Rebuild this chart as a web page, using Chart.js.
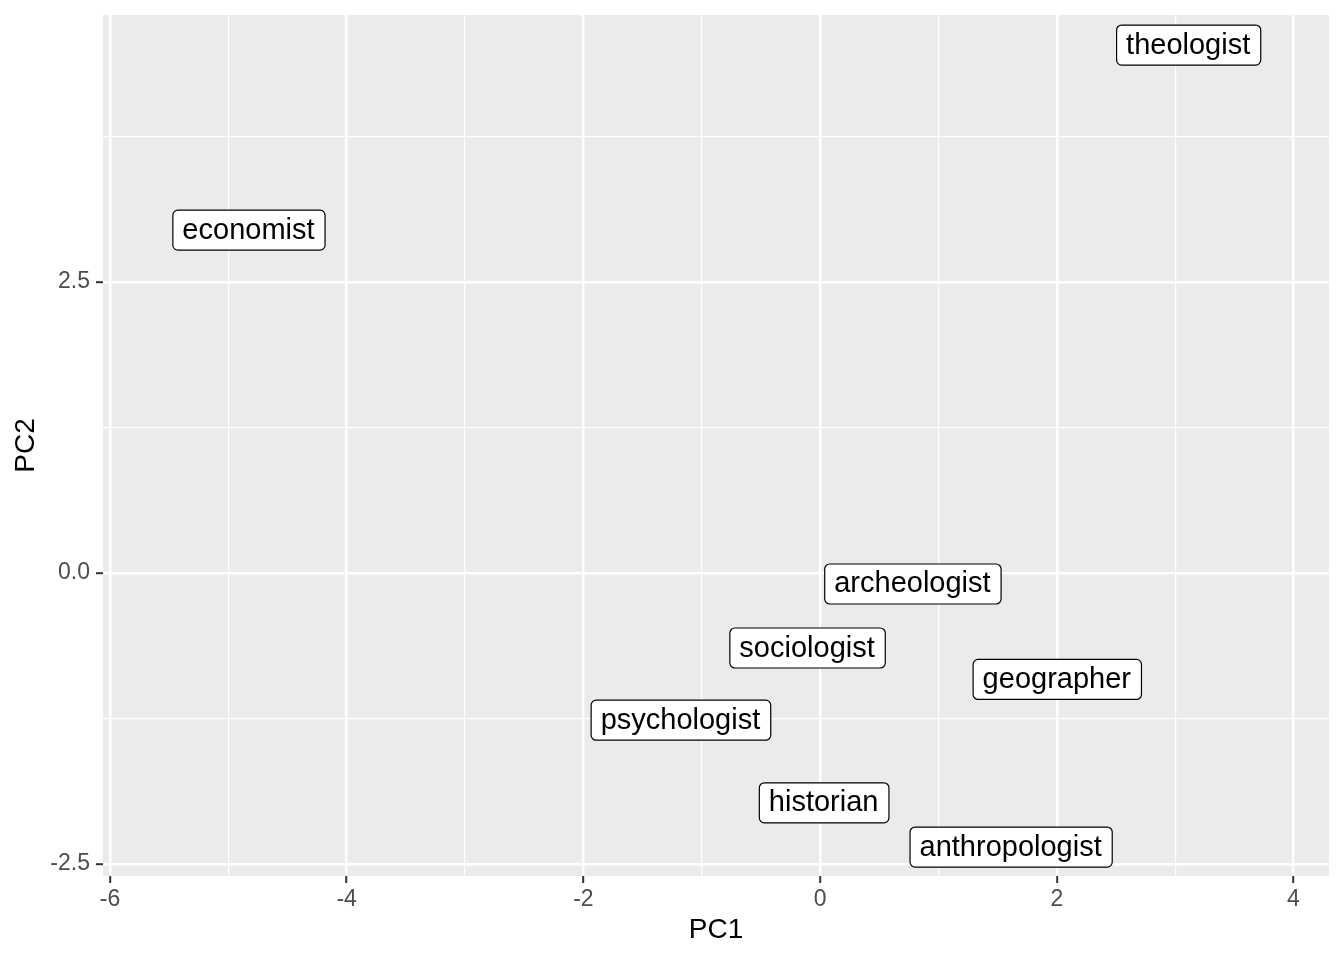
<!DOCTYPE html>
<html>
<head>
<meta charset="utf-8">
<script src="https://cdn.jsdelivr.net/npm/chart.js@4.4.1/dist/chart.umd.min.js"></script>
<style>
	html, body { margin: 0; padding: 0; background: #fff; }
	#wrap { width: 1344px; height: 960px; }
</style>
</head>
<body>
<div id="wrap"><canvas id="pcaChart" width="1344" height="960"></canvas></div>
<script>
// Data
const roles = ['theologist', 'economist', 'archeologist', 'sociologist', 'geographer', 'psychologist', 'historian', 'anthropologist'];
const pc1 = [3.11, -4.83, 0.78, -0.11, 2.0, -1.18, 0.03, 1.61];
const pc2 = [4.54, 2.95, -0.09, -0.64, -0.91, -1.26, -1.97, -2.35];

const xTicks = [-6, -5, -4, -3, -2, -1, 0, 1, 2, 3, 4];
const xLabelled = [-6, -4, -2, 0, 2, 4];
const yTicks = [-2.5, -1.25, 0, 1.25, 2.5, 3.75];
const yLabelled = [-2.5, 0, 2.5];

const FONT = "'Liberation Sans', Arial, Helvetica, sans-serif";

// grey panel behind the grid
const panelBg = {
	id: 'panelBg',
	beforeDraw(chart) {
		const { ctx, chartArea: a } = chart;
		ctx.save();
		ctx.fillStyle = '#EBEBEB';
		ctx.fillRect(a.left, a.top, a.right - a.left, a.bottom - a.top);
		ctx.restore();
	},
};

// geom_label style boxes at each point
const labelBoxes = {
	id: 'labelBoxes',
	afterDatasetsDraw(chart) {
		const ctx = chart.ctx;
		const meta = chart.getDatasetMeta(0);
		ctx.save();
		ctx.font = '29px ' + FONT;
		ctx.textAlign = 'center';
		ctx.textBaseline = 'middle';
		meta.data.forEach((pt, i) => {
			const txt = roles[i];
			const w = ctx.measureText(txt).width + 20;
			const h = 40;
			const x = pt.x - w / 2;
			const y = pt.y - h / 2;
			ctx.beginPath();
			ctx.roundRect(x + 0.5, y + 0.5, w, h, 5);
			ctx.fillStyle = '#ffffff';
			ctx.fill();
			ctx.lineWidth = 1.2;
			ctx.strokeStyle = '#000000';
			ctx.stroke();
			ctx.fillStyle = '#000000';
			ctx.fillText(txt, pt.x, pt.y + 1);
		});
		ctx.restore();
	},
};

const points = pc1.map((v, i) => ({ x: v, y: pc2[i] }));

new Chart(document.getElementById('pcaChart').getContext('2d'), {
	type: 'scatter',
	data: {
		datasets: [
			{
				label: 'roles',
				data: points,
				pointRadius: 0,
				pointHoverRadius: 0,
			},
		],
	},
	options: {
		responsive: false,
		animation: false,
		events: [],
		layout: { padding: { left: 0, right: 15, top: 15, bottom: 0 } },
		plugins: {
			legend: { display: false },
			tooltip: { enabled: false },
		},
		scales: {
			x: {
				type: 'linear',
				min: -6.059,
				max: 4.30,
				afterBuildTicks: (s) => { s.ticks = xTicks.map((v) => ({ value: v })); },
				afterFit: (s) => {
					s.height = 84;
					s.paddingLeft = 0;
					s.paddingRight = 0;
				},
				border: { display: false },
				grid: {
					color: '#ffffff',
					lineWidth: (c) => (xLabelled.includes(c.tick.value) ? 2.4 : 1.2),
					tickColor: (c) => (xLabelled.includes(c.tick.value) ? '#333333' : 'rgba(0,0,0,0)'),
					tickLength: 7,
					tickWidth: 2,
				},
				ticks: {
					autoSkip: false,
					maxRotation: 0,
					padding: 3,
					color: '#4D4D4D',
					font: { family: FONT, size: 23 },
					callback: (v) => (xLabelled.includes(v) ? String(v) : ''),
				},
				title: {
					display: true,
					text: 'PC1',
					color: '#000000',
					font: { family: FONT, size: 28 },
					padding: { top: 13, bottom: 13 },
				},
			},
			y: {
				type: 'linear',
				min: -2.603,
				max: 4.794,
				afterBuildTicks: (s) => { s.ticks = yTicks.map((v) => ({ value: v })); },
				afterFit: (s) => {
					s.width = 103;
					s.paddingTop = 0;
					s.paddingBottom = 0;
				},
				border: { display: false },
				grid: {
					color: '#ffffff',
					lineWidth: (c) => (yLabelled.includes(c.tick.value) ? 2.4 : 1.2),
					tickColor: (c) => (yLabelled.includes(c.tick.value) ? '#333333' : 'rgba(0,0,0,0)'),
					tickLength: 7,
					tickWidth: 2,
				},
				ticks: {
					autoSkip: false,
					padding: 6,
					color: '#4D4D4D',
					font: { family: FONT, size: 23 },
					callback: (v) => (yLabelled.includes(v) ? v.toFixed(1) : ''),
				},
				title: {
					display: true,
					text: 'PC2',
					color: '#000000',
					font: { family: FONT, size: 28 },
					padding: { top: 9, bottom: 9 },
				},
			},
		},
	},
	plugins: [panelBg, labelBoxes],
});
</script>
</body>
</html>
